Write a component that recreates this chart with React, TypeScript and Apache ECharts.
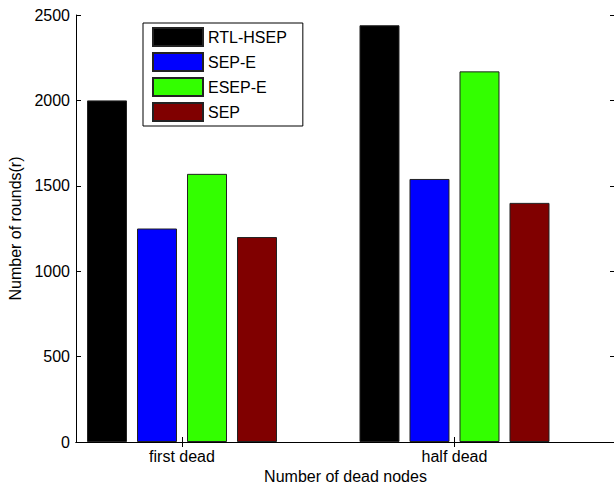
import React, { useEffect, useRef } from "react";
import * as echarts from "echarts";

const categories = ["first dead", "half dead"];
const seriesNames = ["RTL-HSEP", "SEP-E", "ESEP-E", "SEP"];
const rtlHsep = [2000, 2440];
const sepE = [1250, 1540];
const esepE = [1570, 2170];
const sep = [1200, 1400];
const colors = ["#000000", "#0000ff", "#33ff00", "#800000"];
const yTicks = [0, 500, 1000, 1500, 2000, 2500];

const FONT = 'Arial, "Liberation Sans", Helvetica, sans-serif';

export default function App() {
  const ref = useRef<HTMLDivElement>(null);
  useEffect(() => {
    if (!ref.current) return;
    const chart = echarts.init(ref.current, undefined, { renderer: "svg" });
    const values = [rtlHsep, sepE, esepE, sep];
    const catPos = categories.map((_, i) => i + 1);
    const xMin = 0.611;
    const xMax = 2.589;
    const axisLineStyle = { color: "#000", width: 1 };
    chart.setOption({
      animation: false,
      backgroundColor: "#fff",
      textStyle: { fontFamily: FONT },
      grid: { left: 76, top: 15, width: 539, height: 427, containLabel: false, outerBoundsMode: "none" },
      legend: {
        orient: "vertical",
        left: 143,
        top: 23,
        padding: [4, 16, 4, 9],
        itemWidth: 50,
        itemHeight: 18,
        itemGap: 5,
        borderColor: "#000",
        borderWidth: 1,
        backgroundColor: "#fff",
        icon: "rect",
        textStyle: { fontSize: 16, color: "#000", fontFamily: FONT },
        data: seriesNames,
      },
      xAxis: [
        {
          type: "value",
          min: xMin,
          max: xMax,
          position: "bottom",
          name: "Number of dead nodes",
          nameLocation: "middle",
          nameGap: 25,
          nameTextStyle: { fontSize: 16, color: "#000", fontFamily: FONT },
          splitLine: { show: false },
          axisLine: { show: true, lineStyle: axisLineStyle },
          axisTick: { show: true, inside: true, length: 5, customValues: catPos, lineStyle: axisLineStyle },
          axisLabel: {
            show: true,
            customValues: catPos,
            formatter: (v: number) => categories[Math.round(v) - 1] ?? "",
            fontSize: 16,
            color: "#000",
            margin: 6,
            fontFamily: FONT,
          },
        },
        {
          type: "value",
          min: xMin,
          max: xMax,
          position: "top",
          splitLine: { show: false },
          axisLine: { show: true, lineStyle: axisLineStyle },
          axisTick: { show: true, inside: true, length: 5, customValues: catPos, lineStyle: axisLineStyle },
          axisLabel: { show: false },
        },
      ],
      yAxis: [
        {
          type: "value",
          min: 0,
          max: 2500,
          interval: 500,
          name: "Number of rounds(r)",
          nameLocation: "middle",
          nameGap: 51,
          nameTextStyle: { fontSize: 16, color: "#000", fontFamily: FONT },
          splitLine: { show: false },
          axisLine: { show: true, lineStyle: axisLineStyle },
          axisTick: { show: true, inside: true, length: 5, lineStyle: axisLineStyle },
          axisLabel: {
            fontSize: 16,
            color: "#000",
            margin: 6,
            fontFamily: FONT,
            formatter: (v: number) => (yTicks.includes(v) ? String(v) : ""),
          },
        },
        {
          type: "value",
          min: 0,
          max: 2500,
          interval: 500,
          position: "right",
          splitLine: { show: false },
          axisLine: { show: true, lineStyle: axisLineStyle },
          axisTick: { show: true, inside: true, length: 5, lineStyle: axisLineStyle },
          axisLabel: { show: false },
        },
      ],
      series: seriesNames.map((name, si) => ({
        name,
        type: "bar",
        xAxisIndex: 0,
        yAxisIndex: 0,
        barWidth: 40,
        barGap: "25%",
        data: values[si].map((v, i) => [catPos[i], v]),
        itemStyle: { color: colors[si], borderColor: "#222", borderWidth: 1 },
      })),
    });
    return () => chart.dispose();
  }, []);
  return <div ref={ref} style={{ width: 614, height: 487, position: "absolute", left: 0, top: 0 }} />;
}
